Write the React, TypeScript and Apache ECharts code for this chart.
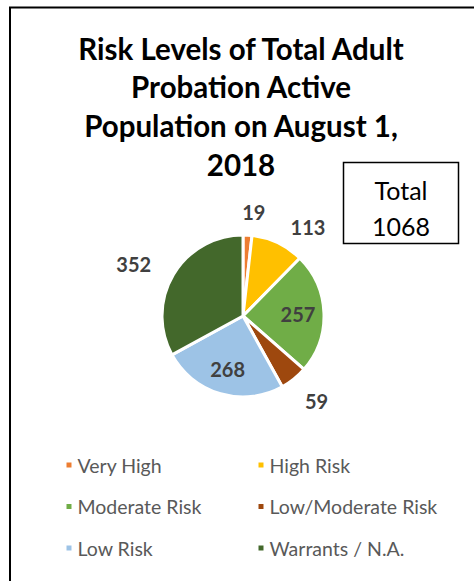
import React, { useEffect, useRef } from "react";
import * as echarts from "echarts";

const categories = ["Very High", "High Risk", "Moderate Risk", "Low/Moderate Risk", "Low Risk", "Warrants / N.A."];
const values = [19, 113, 257, 59, 268, 352];
const colors = ["#ED7D31", "#FFC000", "#70AD47", "#9E480E", "#9DC3E6", "#43682B"];
const insideLabel = [false, false, true, false, true, false];
const centeredLabel = [true, false, false, true, false, false];
const labelLineLength = [23, 18, 18, 28, 18, 20];
const titleLines = ["Risk Levels of Total Adult", "Probation Active", "Population on August 1,", "2018"];
const totalTitle = "Total";
const totalValue = "1068";
const legendCol1 = [categories[0], categories[2], categories[4]];
const legendCol2 = [categories[1], categories[3], categories[5]];

const FONT = "Lato, 'Open Sans', sans-serif";

export default function App() {
  const ref = useRef<HTMLDivElement>(null);
  useEffect(() => {
    if (!ref.current) return;
    const chart = echarts.init(ref.current, undefined, { renderer: "svg" });
    const cx = 243, cy = 316, r = 81;
    const pieData = categories.map((name, i) => ({
      name,
      value: values[i],
      itemStyle: { color: colors[i] },
      label: { show: !insideLabel[i] },
      labelLine: { show: false, length: labelLineLength[i], length2: 0 },
    }));
    const innerData = categories.map((name, i) => ({
      name,
      value: values[i],
      label: { show: insideLabel[i] },
    }));
    const labelFont = {
      fontFamily: FONT,
      fontWeight: "bold" as const,
      fontSize: 20,
      color: "#404040",
    };
    const legendCommon = {
      orient: "vertical" as const,
      top: 450,
      icon: "rect",
      itemWidth: 7,
      itemHeight: 7,
      itemGap: 21.5,
      selectedMode: false,
      textStyle: {
        fontFamily: FONT,
        fontSize: 19.5,
        color: "#595959",
        lineHeight: 20,
        padding: [0, 0, 0, 0],
      },
    };
    chart.setOption({
      animation: false,
      backgroundColor: "#ffffff",
      color: colors,
      legend: [
        { ...legendCommon, left: 59.5, data: legendCol1 },
        { ...legendCommon, left: 251.5, data: legendCol2 },
      ],
      graphic: [
        { type: "line", shape: { x1: 9, y1: 7.5, x2: 474, y2: 7.5 }, style: { stroke: "#000", lineWidth: 2 } },
        { type: "line", shape: { x1: 10, y1: 7, x2: 10, y2: 581 }, style: { stroke: "#000", lineWidth: 2 } },
        ...titleLines.map((t, i) => ({
          type: "text",
          x: 241,
          y: 48 + i * 38.7,
          style: {
            text: t,
            align: "center",
            verticalAlign: "middle",
            fontFamily: FONT,
            fontWeight: "bold",
            fontSize: 29.5,
            fill: "#000",
          },
        })),
        {
          type: "rect",
          shape: { x: 343.5, y: 162.5, width: 115, height: 81 },
          style: { fill: "#fff", stroke: "#000", lineWidth: 1.5 },
        },
        {
          type: "text",
          x: 401,
          y: 190,
          style: { text: totalTitle, align: "center", verticalAlign: "middle", fontFamily: FONT, fontSize: 25, fill: "#000" },
        },
        {
          type: "text",
          x: 401,
          y: 226,
          style: { text: totalValue, align: "center", verticalAlign: "middle", fontFamily: FONT, fontSize: 25, fill: "#000" },
        },
      ],
      series: [
        {
          type: "pie",
          center: [cx, cy],
          radius: r,
          startAngle: 90,
          clockwise: true,
          avoidLabelOverlap: false,
          itemStyle: { borderColor: "#ffffff", borderWidth: 3 },
          label: { position: "outside", formatter: "{c}", ...labelFont },
          labelLine: { show: false, length: 18, length2: 0 },
          labelLayout: (p: any) => (centeredLabel[p.dataIndex] ? { align: "center" } : {}),
          emphasis: { disabled: true },
          data: pieData,
        },
        {
          type: "pie",
          center: [cx, cy],
          radius: [24, 80],
          startAngle: 90,
          clockwise: true,
          silent: true,
          avoidLabelOverlap: false,
          itemStyle: { color: "rgba(0,0,0,0)", borderWidth: 0 },
          label: { position: "inside", formatter: "{c}", ...labelFont },
          labelLine: { show: false },
          emphasis: { disabled: true },
          data: innerData,
        },
      ],
    });
    return () => chart.dispose();
  }, []);
  return (
    <div
      ref={ref}
      style={{ position: "absolute", left: 0, top: 0, width: 474, height: 581 }}
    />
  );
}
